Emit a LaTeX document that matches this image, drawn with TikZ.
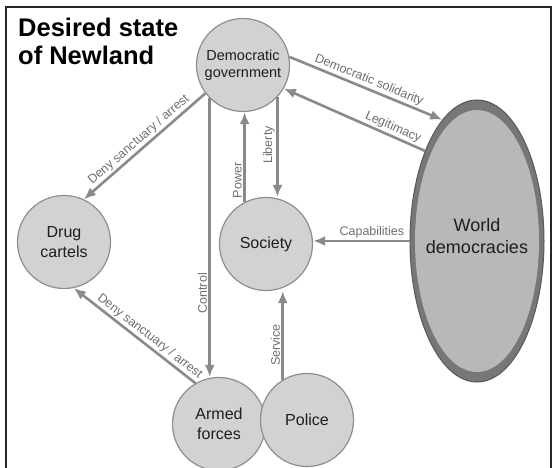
\documentclass[tikz,border=0pt]{standalone}
\usepackage{fontspec}
\setmainfont{Liberation Sans}
\usetikzlibrary{arrows.meta,shapes.geometric,calc}
\definecolor{circfill}{HTML}{D2D2D2}
\definecolor{circdraw}{HTML}{8E8E8E}
\definecolor{arrowc}{HTML}{8A8A8A}
\definecolor{ellout}{HTML}{777777}
\definecolor{ellin}{HTML}{B9B7B7}
\definecolor{labc}{HTML}{6E6E6E}
\definecolor{txtc}{HTML}{1E1E1E}
\begin{document}
\begin{tikzpicture}[x=1pt,y=-1pt,
  actor/.style={circle, minimum size=93pt, inner sep=0pt, fill=circfill, draw=circdraw, line width=1.2pt, align=center, font=\fontsize{16}{20}\selectfont, text=txtc},
  flow/.style={draw=arrowc, line width=2.6pt, -{Latex[length=12pt,width=10pt]}},
  lab/.style={font=\fontsize{12.5}{14}\selectfont, text=labc, inner sep=1.5pt},
  titletext/.style={font=\bfseries\fontsize{25.5}{28}\selectfont, anchor=base west, inner sep=0pt, text=black}
]
\useasboundingbox (0,0) rectangle (555,468);
\draw[line width=1.5pt, color=black!85] (6,470) -- (6,7) -- (551,7) -- (551,470);

\node[titletext] (t1) at (18,37) {Desired state};
\node[titletext] (t2) at (18,65) {of Newland};

\node[actor, font=\fontsize{14.5}{17}\selectfont] (DG) at (243,65) {Democratic\\government};
\node[actor] (DC) at (64,242) {Drug\\cartels};
\node[actor] (SO) at (266,244) {Society};
\node[actor] (AF) at (219,424) {Armed\\forces};
\node[actor] (PO) at (307,420) {Police};
\node[ellipse, minimum width=134pt, minimum height=282pt, inner sep=0pt, fill=ellout, draw=black!65, line width=1pt] (WD) at (477,241) {};
\node[ellipse, minimum width=124pt, minimum height=262pt, inner sep=0pt, fill=ellin] (WDi) at (WD.center) {};
\node[font=\fontsize{18}{22}\selectfont, align=center, text=txtc] (WDt) at (477,236) {World\\democracies};

\draw[flow] (DG.-143) -- node[lab, sloped, above] (l1) {Deny sanctuary / arrest} (DC.65);
\draw[flow] (AF.120) -- node[lab, sloped, above, pos=0.42] (l2) {Deny sanctuary / arrest} (DC.-78);
\draw[flow] (DG.-135) -- node[lab, rotate=90, anchor=south, pos=0.70] (l3) {Control} (DG.-135 |- AF.north);
\draw[flow] (SO.117) -- node[lab, rotate=90, anchor=south, pos=0.24] (l4) {Power} (SO.117 |- DG.south);
\draw[flow] (DG.-43) -- node[lab, rotate=90, anchor=south, pos=0.48] (l5) {Liberty} (DG.-43 |- SO.north);
\draw[flow] (DG.10) -- node[lab, sloped, above] (l6) {Democratic solidarity} (WD.106);
\draw[flow] (WD.120) -- node[lab, sloped, above, pos=0.25] (l7) {Legitimacy} (DG.-30);
\draw[flow] (WD.west) -- node[lab, above, pos=0.39] (l8) {Capabilities} (WD.west -| SO.east);
\draw[flow] (PO.121) -- node[lab, rotate=90, anchor=south, pos=0.39] (l9) {Service} (PO.121 |- SO.south);
\end{tikzpicture}
\end{document}
